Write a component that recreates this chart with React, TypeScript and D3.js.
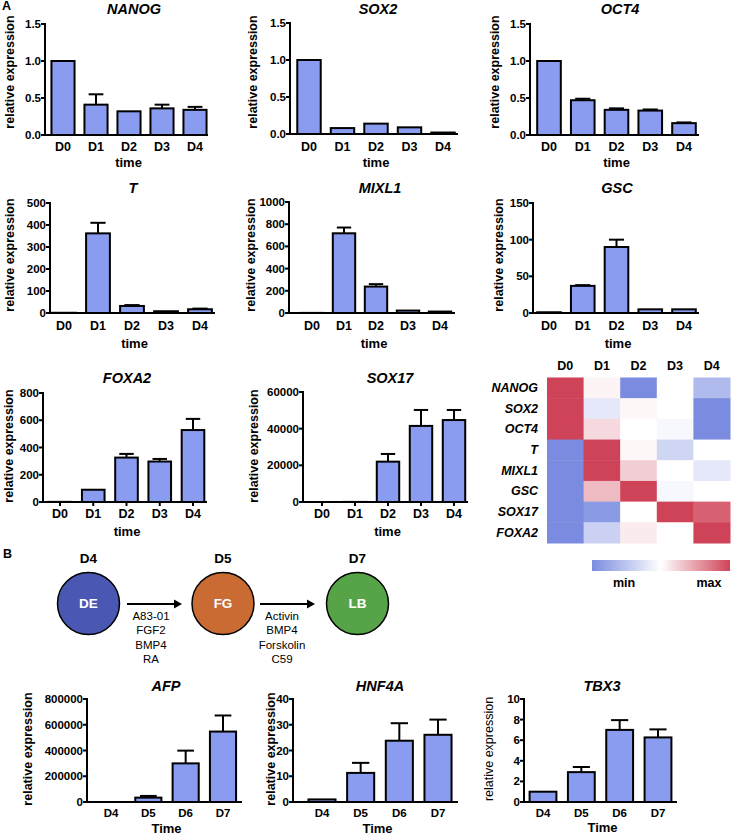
import React from "react";
import * as d3 from "d3";

// ---------- DATA ----------
const daysA = ["D0", "D1", "D2", "D3", "D4"];
const daysB = ["D4", "D5", "D6", "D7"];

const nanogMean = [1.0, 0.41, 0.32, 0.36, 0.34];
const nanogErr = [0, 0.14, 0.005, 0.05, 0.04];
const sox2Mean = [1.0, 0.08, 0.14, 0.09, 0.02];
const sox2Err = [0, 0, 0, 0, 0];
const oct4Mean = [1.0, 0.47, 0.34, 0.33, 0.16];
const oct4Err = [0, 0.02, 0.02, 0.015, 0.01];
const tMean = [1, 362, 32, 8, 17];
const tErr = [0, 48, 4, 2, 3];
const mixl1Mean = [1, 718, 238, 22, 13];
const mixl1Err = [0, 52, 22, 3, 2];
const gscMean = [1, 37, 90, 5, 5];
const gscErr = [0, 1, 10, 0.5, 0.5];
const foxa2Mean = [1, 90, 326, 297, 528];
const foxa2Err = [0, 3, 27, 19, 82];
const sox17Mean = [1, 50, 22000, 41500, 44700];
const sox17Err = [0, 10, 4200, 8700, 5500];
const afpMean = [1, 34000, 300000, 547000];
const afpErr = [0, 13000, 99000, 125000];
const hnf4aMean = [1.0, 11.3, 23.8, 26.1];
const hnf4aErr = [0, 3.9, 6.8, 5.9];
const tbx3Mean = [1.0, 2.9, 7.0, 6.27];
const tbx3Err = [0, 0.5, 0.95, 0.78];

const ticksPluri = [0, 0.5, 1.0, 1.5];
const ticksT = [0, 100, 200, 300, 400, 500];
const ticksMixl1 = [0, 200, 400, 600, 800, 1000];
const ticksGsc = [0, 50, 100, 150];
const ticksFoxa2 = [0, 200, 400, 600, 800];
const ticksSox17 = [0, 20000, 40000, 60000];
const ticksAfp = [0, 200000, 400000, 600000, 800000];
const ticksHnf4a = [0, 10, 20, 30, 40];
const ticksTbx3 = [0, 2, 4, 6, 8, 10];

const heatGenes = ["NANOG", "SOX2", "OCT4", "T", "MIXL1", "GSC", "SOX17", "FOXA2"];
const heatValues = [
  [1, 0.53, 0, 0.5, 0.2],
  [1, 0.4, 0.52, 0.5, 0],
  [1, 0.6, 0.5, 0.47, 0],
  [0, 1, 0.52, 0.32, 0.5],
  [0, 1, 0.63, 0.5, 0.4],
  [0, 0.68, 1, 0.47, 0.5],
  [0, 0.06, 0.5, 1, 0.92],
  [0, 0.3, 0.55, 0.5, 1],
];

const stages = ["DE", "FG", "LB"];
const stageDays = ["D4", "D5", "D7"];
const treatments1 = ["A83-01", "FGF2", "BMP4", "RA"];
const treatments2 = ["Activin", "BMP4", "Forskolin", "C59"];

// ---------- STYLE / LAYOUT ----------
const FONT = "'Liberation Sans', Arial, Helvetica, sans-serif";
const BAR_FILL = "#8a9cf0";

type Cfg = {
  title: string;
  cats: string[];
  mean: number[];
  err: number[];
  ticks: number[];
  fmt: (v: number) => string;
  x0: number; x1: number; c0: number; cN: number; yTop: number; yBot: number;
  titleX: number; titleY: number;
  ylabX: number; ylabY: number; ylabBold?: boolean;
  xlabY: number; timeY: number; timeLabel: string; timeX?: number;
  xTicks?: boolean; pad: number; tickFs: number; xFs: number;
};

const f1 = d3.format(".1f");
const f0 = d3.format("d");

const charts: Cfg[] = [
  { title: "NANOG", cats: daysA, mean: nanogMean, err: nanogErr, ticks: ticksPluri, fmt: f1,
    x0: 45, x1: 208, c0: 63, cN: 195, yTop: 24, yBot: 135, titleX: 134, titleY: 14,
    ylabX: 10, ylabY: 72, xlabY: 151, timeY: 167, timeLabel: "time", pad: 0.3, tickFs: 11.5, xFs: 12.5 },
  { title: "SOX2", cats: daysA, mean: sox2Mean, err: sox2Err, ticks: ticksPluri, fmt: f1,
    x0: 290, x1: 458, c0: 309, cN: 443, yTop: 23, yBot: 134, titleX: 378, titleY: 14,
    ylabX: 253, ylabY: 72, xlabY: 151, timeY: 167, timeLabel: "time", pad: 0.3, tickFs: 11.5, xFs: 12.5 },
  { title: "OCT4", cats: daysA, mean: oct4Mean, err: oct4Err, ticks: ticksPluri, fmt: f1,
    x0: 530, x1: 699, c0: 549, cN: 684, yTop: 24, yBot: 135, titleX: 620, titleY: 14,
    ylabX: 495, ylabY: 72, xlabY: 151, timeY: 167, timeLabel: "time", pad: 0.3, tickFs: 11.5, xFs: 12.5 },
  { title: "T", cats: daysA, mean: tMean, err: tErr, ticks: ticksT, fmt: f0,
    x0: 50, x1: 215, c0: 64, cN: 200, yTop: 203, yBot: 313, titleX: 133, titleY: 193,
    ylabX: 10, ylabY: 255, xlabY: 330, timeY: 348, timeLabel: "time", pad: 0.3, tickFs: 11.5, xFs: 12.5 },
  { title: "MIXL1", cats: daysA, mean: mixl1Mean, err: mixl1Err, ticks: ticksMixl1, fmt: f0,
    x0: 289, x1: 455, c0: 312, cN: 440, yTop: 202, yBot: 313, titleX: 380, titleY: 193,
    ylabX: 251, ylabY: 255, xlabY: 330, timeY: 348, timeLabel: "time", pad: 0.3, tickFs: 11.5, xFs: 12.5 },
  { title: "GSC", cats: daysA, mean: gscMean, err: gscErr, ticks: ticksGsc, fmt: f0,
    x0: 533, x1: 699, c0: 549, cN: 684, yTop: 203, yBot: 313, titleX: 617, titleY: 193,
    ylabX: 499, ylabY: 255, xlabY: 330, timeY: 348, timeLabel: "time", pad: 0.3, tickFs: 11.5, xFs: 12.5 },
  { title: "FOXA2", cats: daysA, mean: foxa2Mean, err: foxa2Err, ticks: ticksFoxa2, fmt: f0,
    x0: 43, x1: 207, c0: 60, cN: 193, yTop: 393, yBot: 502, titleX: 127, titleY: 383,
    ylabX: 9, ylabY: 446, xlabY: 518, timeY: 536, timeLabel: "time", xTicks: true, pad: 0.32, tickFs: 11.5, xFs: 12.5 },
  { title: "SOX17", cats: daysA, mean: sox17Mean, err: sox17Err, ticks: ticksSox17, fmt: f0,
    x0: 303, x1: 468, c0: 322, cN: 454, yTop: 392, yBot: 502, titleX: 390, titleY: 383,
    ylabX: 254, ylabY: 446, xlabY: 518, timeY: 536, timeLabel: "time", xTicks: true, pad: 0.32, tickFs: 11.5, xFs: 12.5 },
  { title: "AFP", cats: daysB, mean: afpMean, err: afpErr, ticks: ticksAfp, fmt: f0,
    x0: 87, x1: 242, c0: 111, cN: 223, yTop: 699, yBot: 802, titleX: 166, titleY: 691,
    ylabX: 28, ylabY: 749, xlabY: 817, timeY: 833, timeLabel: "Time", pad: 0.3, tickFs: 11.5, xFs: 11.5 },
  { title: "HNF4A", cats: daysB, mean: hnf4aMean, err: hnf4aErr, ticks: ticksHnf4a, fmt: f0,
    x0: 293, x1: 458, c0: 322, cN: 438, yTop: 699, yBot: 802, titleX: 380, titleY: 691,
    ylabX: 271, ylabY: 749, xlabY: 817, timeY: 833, timeLabel: "Time", pad: 0.3, tickFs: 11.5, xFs: 11.5 },
  { title: "TBX3", cats: daysB, mean: tbx3Mean, err: tbx3Err, ticks: ticksTbx3, fmt: f0,
    x0: 524, x1: 677, c0: 543, cN: 658, yTop: 699, yBot: 802, titleX: 602, titleY: 691,
    ylabX: 489, ylabY: 749, ylabBold: false, xlabY: 817, timeY: 832, timeLabel: "Time", pad: 0.3, tickFs: 11.5, xFs: 11.5 },
];

function BarChart({ c }: { c: Cfg }) {
  const n = c.cats.length;
  const step = (c.cN - c.c0) / (n - 1);
  const x = d3.scaleBand<string>()
    .domain(c.cats)
    .range([c.c0 - step / 2, c.cN + step / 2])
    .paddingInner(c.pad)
    .paddingOuter(c.pad / 2);
  const max = c.ticks[c.ticks.length - 1];
  const y = d3.scaleLinear().domain([0, max]).range([c.yBot, c.yTop]);
  const bw = x.bandwidth();
  return (
    <g fontFamily={FONT}>
      <text x={c.titleX} y={c.titleY} textAnchor="middle" fontWeight="bold" fontStyle="italic" fontSize={14.5}>{c.title}</text>
      <text transform={`translate(${c.ylabX},${c.ylabY}) rotate(-90)`} textAnchor="middle" dominantBaseline="central"
        fontWeight={c.ylabBold === false ? "normal" : "bold"} fontSize={12.5}>relative expression</text>
      {c.mean.map((v, i) => {
        const cat = c.cats[i];
        const bx = x(cat)!;
        const top = y(v);
        const e = c.err[i];
        const cx = bx + bw / 2;
        return (
          <g key={cat}>
            <rect x={bx} y={top} width={bw} height={Math.max(0, c.yBot - top)} fill={BAR_FILL} stroke="#000" strokeWidth={2} />
            {e > 0 && y(v) - y(v + e) > 0.6 && (
              <g stroke="#000" strokeWidth={2}>
                <line x1={cx} x2={cx} y1={top} y2={y(v + e)} />
                <line x1={cx - bw * 0.32} x2={cx + bw * 0.32} y1={y(v + e)} y2={y(v + e)} />
              </g>
            )}
          </g>
        );
      })}
      <line x1={c.x0} x2={c.x0} y1={c.yTop - 1} y2={c.yBot + 1} stroke="#000" strokeWidth={2} />
      <line x1={c.x0 - 1} x2={c.x1} y1={c.yBot} y2={c.yBot} stroke="#000" strokeWidth={2} />
      {c.ticks.map((t) => (
        <g key={t}>
          <line x1={c.x0 - 4} x2={c.x0} y1={y(t)} y2={y(t)} stroke="#000" strokeWidth={2} />
          <text x={c.x0 - 4} y={y(t)} textAnchor="end" dominantBaseline="central" fontWeight="bold" fontSize={c.tickFs}>{c.fmt(t)}</text>
        </g>
      ))}
      {c.cats.map((cat) => {
        const cx = x(cat)! + bw / 2;
        return (
          <g key={cat}>
            {c.xTicks && <line x1={cx} x2={cx} y1={c.yBot} y2={c.yBot + 4} stroke="#000" strokeWidth={2} />}
            <text x={cx} y={c.xlabY} textAnchor="middle" fontWeight="bold" fontSize={c.xFs}>{cat}</text>
          </g>
        );
      })}
      <text x={c.timeX ?? (c.x0 + c.x1) / 2 + 2} y={c.timeY} textAnchor="middle" fontWeight="bold" fontSize={13}>{c.timeLabel}</text>
    </g>
  );
}

function Heatmap() {
  const x = d3.scaleBand<string>().domain(daysA).range([547, 730]);
  const y = d3.scaleBand<string>().domain(heatGenes).range([377.5, 543]);
  const color = d3.scaleLinear<string>().domain([0, 0.5, 1]).range(["#7b8ce0", "#ffffff", "#cf4358"]);
  const legendX = d3.scaleLinear().domain([0, 1]).range([592, 730]);
  const stops = d3.range(0, 1.0001, 0.1);
  return (
    <g fontFamily={FONT}>
      <defs>
        <linearGradient id="hmgrad" x1="0" x2="1" y1="0" y2="0">
          {stops.map((s) => (
            <stop key={s} offset={`${s * 100}%`} stopColor={color(s)} />
          ))}
        </linearGradient>
      </defs>
      {heatGenes.map((g, r) =>
        daysA.map((d, ci) => (
          <rect key={g + d} x={x(d)!} y={y(g)!} width={x.bandwidth() + 0.5} height={y.bandwidth() + 0.5} fill={color(heatValues[r][ci])} />
        ))
      )}
      {daysA.map((d) => (
        <text key={d} x={x(d)! + x.bandwidth() / 2} y={370} textAnchor="middle" fontWeight="bold" fontSize={12.5}>{d}</text>
      ))}
      {heatGenes.map((g) => (
        <text key={g} x={538} y={y(g)! + y.bandwidth() / 2} textAnchor="end" dominantBaseline="central" fontWeight="bold" fontStyle="italic" fontSize={12.5}>{g}</text>
      ))}
      <rect x={legendX(0)} y={560} width={legendX(1) - legendX(0)} height={11} fill="url(#hmgrad)" />
      <text x={624} y={587} textAnchor="middle" fontWeight="bold" fontSize={12.5}>min</text>
      <text x={709} y={587} textAnchor="middle" fontWeight="bold" fontSize={12.5}>max</text>
    </g>
  );
}

function Scheme() {
  const cx = d3.scalePoint<string>().domain(stages).range([88.5, 357.5]);
  const fills = ["#4a58b3", "#c96b32", "#56a447"];
  const arrowY = 604;
  const arrows = [
    { x1: 127, x2: 182, tx: 151, items: treatments1 },
    { x1: 260, x2: 315, tx: 282, items: treatments2 },
  ];
  return (
    <g fontFamily={FONT}>
      <text x={3} y={558} fontWeight="bold" fontSize={12.5}>B</text>
      {stages.map((s, i) => (
        <g key={s}>
          <text x={cx(s)!} y={563} textAnchor="middle" fontWeight="bold" fontSize={13.5}>{stageDays[i]}</text>
          <circle cx={cx(s)!} cy={603.5} r={31} fill={fills[i]} stroke="#000" strokeWidth={1.5} />
          <text x={cx(s)!} y={603.5} textAnchor="middle" dominantBaseline="central" fontWeight="bold" fontSize={13.5} fill="#fff">{s}</text>
        </g>
      ))}
      {arrows.map((a, i) => (
        <g key={i}>
          <line x1={a.x1} x2={a.x2 - 2} y1={arrowY} y2={arrowY} stroke="#000" strokeWidth={2} />
          <path d={`M${a.x2},${arrowY} L${a.x2 - 8},${arrowY - 4.5} L${a.x2 - 8},${arrowY + 4.5} Z`} fill="#000" />
          {a.items.map((t, j) => (
            <text key={t} x={a.tx} y={620 + j * 14.3} textAnchor="middle" fontSize={11.5}>{t}</text>
          ))}
        </g>
      ))}
    </g>
  );
}

export default function App() {
  return (
    <svg width={747} height={837} viewBox="0 0 747 837" style={{ position: "absolute", left: 0, top: 0, background: "#fff" }}>
      <rect width={747} height={837} fill="#fff" />
      <text x={2} y={10} fontFamily={FONT} fontWeight="bold" fontSize={12.5}>A</text>
      {charts.map((c) => (
        <BarChart key={c.title} c={c} />
      ))}
      <Heatmap />
      <Scheme />
    </svg>
  );
}
